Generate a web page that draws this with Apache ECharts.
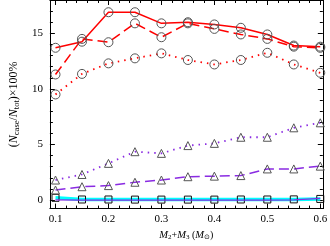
<!DOCTYPE html>
<html><head><meta charset="utf-8">
<script src="https://cdn.jsdelivr.net/npm/echarts@6/dist/echarts.min.js"></script>
<style>html,body{margin:0;padding:0;background:#fff}#c{width:330px;height:246px}</style>
</head><body><div id="c"></div>
<script>
const xs = [0.1,0.15,0.2,0.25,0.3,0.35,0.4,0.45,0.5,0.55,0.6];
const redSolid  = [13.7,14.25,16.9,16.9,15.9,16.0,15.8,15.5,14.9,13.9,13.8];
const redDashed = [11.3,14.5,14.2,15.9,14.65,15.9,15.4,14.9,14.5,13.8,13.7];
const redDotted = [9.5,11.35,12.3,12.75,13.2,12.6,12.2,12.6,13.25,12.2,11.45];
const purDotted = [1.8,2.3,3.3,4.35,4.2,4.9,5.1,5.65,5.65,6.5,6.95];
const purDashed = [0.9,1.2,1.3,1.6,1.8,2.1,2.15,2.2,2.8,2.8,3.05];
const cyanVals  = [0.2,0.05,0.05,0.04,0.04,0.04,0.04,0.05,0.05,0.06,0.1];
const purSolid  = [0.02,0.0,0.0,0.0,0.0,0.0,0.0,0.0,0.0,0.02,0.15];
const xTicks = [0.1,0.2,0.3,0.4,0.5,0.6];
const yTicks = [0,5,10,15];

const xMinor = []; for (let i=5;i<=30;i++){ const v=+(i*0.02).toFixed(2); if (v>0.09 && v<0.605 && Math.abs(v*10-Math.round(v*10))>1e-6) xMinor.push(v); }
const yMinor = []; for (let v=0; v<=17; v++){ if (v%5) yMinor.push(v); }

const pair = arr => xs.map((x,i)=>[x,arr[i]]);
const font = 'Liberation Serif';
const X0=0.0894, X1=0.6048, Y0=-0.77, Y1=18;

function xa(pos, ticks, len, labels, line){
  return {type:'value', position:pos, min:X0, max:X1,
    axisLine:{show:line, onZero:false, lineStyle:{color:'#000', width:1}},
    axisTick:{show:true, inside:true, length:len, customValues:ticks, lineStyle:{color:'#000', width:1}},
    axisLabel:{show:labels, customValues:ticks, formatter:v=>v.toFixed(1), color:'#000', fontFamily:font, fontSize:11, margin:5},
    splitLine:{show:false}};
}
function ya(pos, ticks, len, labels, line){
  return {type:'value', position:pos, min:Y0, max:Y1,
    axisLine:{show:line, onZero:false, lineStyle:{color:'#000', width:1}},
    axisTick:{show:true, inside:true, length:len, customValues:ticks, lineStyle:{color:'#000', width:1}},
    axisLabel:{show:labels, customValues:ticks, color:'#000', fontFamily:font, fontSize:11, margin:7},
    splitLine:{show:false}};
}
const xAxes = [xa('bottom',xTicks,5,true,true), xa('bottom',xMinor,3,false,false), xa('top',xTicks,5,false,true), xa('top',xMinor,3,false,false)];
xAxes[0].name = '{i|M}{s|2}+{i|M}{s|3} ({i|M}{s|⊙})';
xAxes[0].nameLocation='middle'; xAxes[0].nameGap=19;
xAxes[0].nameTextStyle={fontFamily:font,fontSize:10,color:'#000',rich:{i:{fontStyle:'italic',fontFamily:font,fontSize:10.5},s:{fontSize:7,fontFamily:font,padding:[5,0,0,0]}}};
const yAxes = [ya('left',yTicks,5,true,true), ya('left',yMinor,3,false,false), ya('right',yTicks,5,false,true), ya('right',yMinor,3,false,false)];
yAxes[0].name='({i|N}{s|case}/{i|N}{s|tot})×100%';
yAxes[0].nameLocation='middle'; yAxes[0].nameGap=21; yAxes[0].nameRotate=90;
yAxes[0].nameTextStyle={fontFamily:font,fontSize:12,color:'#000',rich:{i:{fontStyle:'italic',fontFamily:font,fontSize:12},s:{fontSize:8.5,fontFamily:font,padding:[5,0,0,0]}}};

function s(data, color, type, width, symbol, size, z){
  return {type:'line', data:pair(data), xAxisIndex:0, yAxisIndex:0, symbol:symbol, symbolSize:size, showSymbol:symbol!=='none',
    lineStyle:{color:color, width:width, type:type}, itemStyle:{color:'rgba(0,0,0,0)', borderColor:'#555', borderWidth:1},
    emphasis:{disabled:true}, z:z||2, animation:false};
}
const series = [
  s(cyanVals,'#00ffff','solid',3.5,'rect',7,2),
  s(purSolid,'#8a2be2','solid',1.2,'none',0,3),
  s(purDashed,'#8a2be2',[10,5],1.5,'triangle',8,3),
  s(purDotted,'#8a2be2',[1.5,5],1.8,'triangle',8,3),
  s(redDotted,'#ff0000',[1.5,5],1.8,'circle',9,3),
  s(redDashed,'#ff0000',[10,5],1.5,'circle',9,3),
  s(redSolid,'#ff0000','solid',1.5,'circle',9,3)
];
series[0].itemStyle.borderColor='#111';

const chart = echarts.init(document.getElementById('c'), null, {renderer:'canvas'});
chart.setOption({
  animation:false,
  backgroundColor:'#fff',
  grid:{left:34, right:4, top:0, bottom:27, containLabel:false},
  xAxis:xAxes, yAxis:yAxes, series:series
});
</script></body></html>
